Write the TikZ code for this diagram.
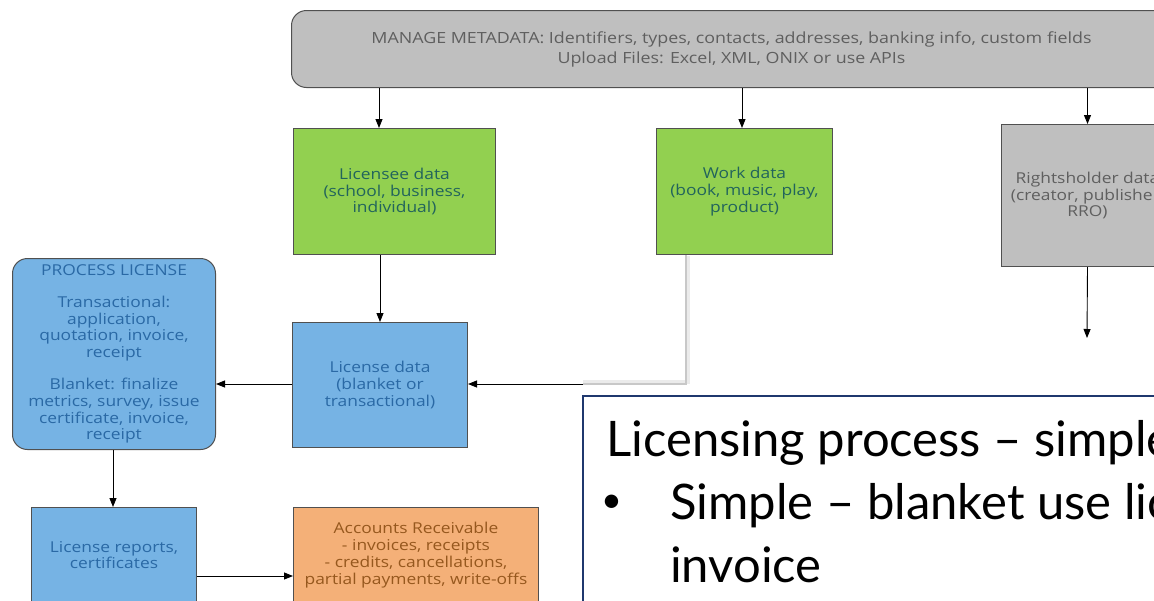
\documentclass[tikz,border=0pt]{standalone}
\usepackage{fontspec}
\setmainfont{Open Sans}[FakeStretch=1.16]
\newfontfamily\slidefont{Lato}
\usetikzlibrary{arrows.meta}
\definecolor{topgray}{RGB}{191,191,191}
\definecolor{edgegray}{RGB}{80,80,80}
\definecolor{graytext}{RGB}{95,95,95}
\definecolor{boxgreen}{RGB}{146,208,80}
\definecolor{greentext}{RGB}{34,100,92}
\definecolor{boxblue}{RGB}{118,179,228}
\definecolor{bluetext}{RGB}{42,105,165}
\definecolor{boxorange}{RGB}{244,176,120}
\definecolor{orangetext}{RGB}{150,88,30}
\definecolor{slideblue}{RGB}{31,56,110}
\definecolor{connGray}{RGB}{200,200,200}
\tikzset{
  box/.style={draw=edgegray, line width=1pt, anchor=north west, align=center, inner sep=2pt,
    font=\fontsize{15}{16.8}\selectfont},
  greenbox/.style={box, fill=boxgreen, text=greentext},
  bluebox/.style={box, fill=boxblue, text=bluetext},
  graybox/.style={box, fill=topgray, text=graytext},
  orangebox/.style={box, fill=boxorange, text=orangetext},
  arr/.style={draw=black, line width=0.9pt, -{Triangle[length=9pt,width=7pt]}},
  slidetext/.style={anchor=base west, inner sep=0pt, font=\slidefont\fontsize{49}{56}\selectfont},
}
\begin{document}
\begin{tikzpicture}[x=1pt,y=-1pt]
\useasboundingbox (0,0) rectangle (1154,600);
\fill[white] (0,0) rectangle (1154,600);
\begin{scope}
\clip (0,0) rectangle (1154,600);
% top metadata box
\node[graybox, rounded corners=15pt, minimum width=880pt, minimum height=77pt,
  font=\fontsize{15.4}{20}\selectfont] (meta) at (291,10)
  {MANAGE METADATA: Identifiers, types, contacts, addresses, banking info, custom fields\\Upload Files: Excel, XML, ONIX or use APIs};
% second row
\node[greenbox, minimum width=202pt, minimum height=126pt] (lic) at (293,128)
  {Licensee data\\(school, business,\\individual)};
\node[greenbox, minimum width=176pt, minimum height=126pt] (work) at (656,128)
  {Work data\\(book, music, play,\\product)};
\node[graybox, minimum width=172pt, minimum height=142pt] (rh) at (1001,124)
  {Rightsholder data\\(creator, publisher,\\RRO)};
% third row
\node[bluebox, minimum width=175pt, minimum height=125pt] (ldata) at (292,322)
  {License data\\(blanket or\\transactional)};
\node[bluebox, rounded corners=15pt, minimum width=203pt, minimum height=191pt] (proc) at (12,258)
  {PROCESS LICENSE\\[15pt]Transactional:\\application,\\quotation, invoice,\\receipt\\[15pt]Blanket: finalize\\metrics, survey, issue\\certificate, invoice,\\receipt};
% bottom row
\node[bluebox, minimum width=165pt, minimum height=95pt] (rep) at (31,507)
  {License reports,\\certificates};
\node[orangebox, minimum width=245pt, minimum height=95pt] (ar) at (293,507)
  {Accounts Receivable\\- invoices, receipts\\- credits, cancellations,\\partial payments, write-offs};
% connectors
\draw[arr] (meta.south -| 379,0) -- (lic.north -| 379,0);
\draw[arr] (meta.south -| 742,0) -- (work.north -| 742,0);
\draw[arr] (meta.south -| rh.north) -- (rh.north);
\coordinate (rhend) at (1087,338);
\draw[arr] (rh.south) -- (rhend);
\draw[arr] (lic.south -| 380,0) -- (ldata.north -| 380,0);
\coordinate (bend) at (583,384);
\draw[line width=4pt, draw=black!8] ([xshift=32pt,yshift=-1pt]work.south west) |- ([yshift=2pt]bend);
\draw[line width=2.6pt, draw=connGray] ([xshift=30pt]work.south west) |- (bend);
\draw[arr] (bend) -- (ldata.east |- bend);
\draw[arr] (ldata.west |- 0,384) -- (proc.east |- 0,384);
\draw[arr] (proc.south -| 113,0) -- (rep.north -| 113,0);
\draw[arr] (rep.east |- 0,576) -- (ar.west |- 0,576);
% slide text box
\node[draw=slideblue, line width=1.5pt, fill=white, anchor=north west,
  minimum width=620pt, minimum height=230pt] (slide) at (582,395) {};
\node[slidetext] (t1) at (606,456) {Licensing process – simple};
\node[slidetext, font=\slidefont\fontsize{36}{40}\selectfont] (bul) at (601,512) {•};
\node[slidetext] (t2) at (670,519) {Simple – blanket use licence};
\node[slidetext] (t3) at (670,582) {invoice};
\end{scope}
\end{tikzpicture}
\end{document}
